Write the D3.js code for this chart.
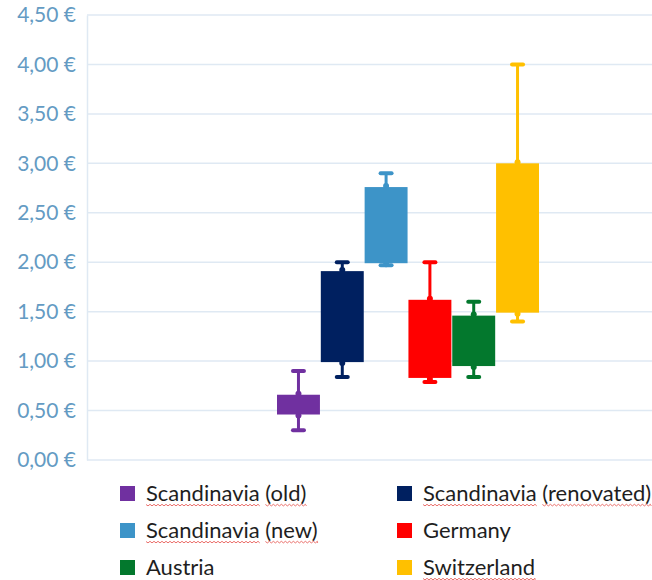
<!DOCTYPE html>
<html>
<head>
<meta charset="utf-8">
<script src="https://cdn.jsdelivr.net/npm/d3@7/dist/d3.min.js"></script>
<style>
  html, body { margin: 0; padding: 0; background: #ffffff; }
  svg { display: block; }
</style>
</head>
<body>
<svg id="chart" width="652" height="580"></svg>
<script>
// Price ranges per region (EUR): min, Q1, Q3, max
const series  = ["Scandinavia (old)", "Scandinavia (renovated)", "Scandinavia (new)", "Germany", "Austria", "Switzerland"];
const minVals = [0.30, 0.84, 1.97, 0.79, 0.84, 1.40];
const q1Vals  = [0.46, 0.99, 1.99, 0.83, 0.95, 1.49];
const q3Vals  = [0.66, 1.91, 2.76, 1.62, 1.46, 3.00];
const maxVals = [0.90, 2.00, 2.90, 2.00, 1.60, 4.00];
const colors  = ["#7030a0", "#002060", "#3d94c8", "#ff0000", "#03782d", "#ffc000"];
const yTicks  = [0, 0.5, 1, 1.5, 2, 2.5, 3, 3.5, 4, 4.5];
// legend entries flagged by the word processor's spell checker
const flagged = [true, true, true, false, false, true];

const svg = d3.select("#chart");
const font = "Lato, 'Open Sans', sans-serif";

const y = d3.scaleLinear().domain([0, 4.5]).range([460, 15]);
const x = d3.scaleBand().domain(series).range([277, 539]).paddingInner(0.02);
const plotLeft = 87, plotRight = 652;

const fmt = v => d3.format(".2f")(v).replace(".", ",") + " €";

// gridlines
svg.append("g").selectAll("line").data(yTicks).join("line")
  .attr("x1", plotLeft).attr("x2", plotRight)
  .attr("y1", d => y(d)).attr("y2", d => y(d))
  .attr("stroke", "#dfe9f3").attr("stroke-width", 1.5);

// value axis
const yAxis = d3.axisLeft(y).tickValues(yTicks).tickFormat(fmt).tickSize(0).tickPadding(11);
const gAxis = svg.append("g").attr("transform", `translate(${plotLeft},0)`).call(yAxis);
gAxis.select(".domain").attr("stroke", "#dfe9f3").attr("stroke-width", 1.5);
gAxis.selectAll("text")
  .attr("fill", "#649bc3").attr("font-family", font).attr("font-size", 21);

const data = series.map((s, i) => ({
  name: s, min: minVals[i], q1: q1Vals[i], q3: q3Vals[i], max: maxVals[i], color: colors[i]
}));

const boxes = svg.append("g").selectAll("g").data(data).join("g");
const cx = d => x(d.name) + x.bandwidth() / 2;

// whiskers
boxes.append("line")
  .attr("x1", cx).attr("x2", cx)
  .attr("y1", d => y(d.max)).attr("y2", d => y(d.min))
  .attr("stroke", d => d.color).attr("stroke-width", 3);

// knobs where the whiskers meet the box
boxes.selectAll("circle").data(d => [
    { v: d.q3, dy: -1, d }, { v: d.q1, dy: 1, d }
  ]).join("circle")
  .attr("cx", e => cx(e.d)).attr("cy", e => y(e.v) + e.dy).attr("r", 3)
  .attr("fill", e => e.d.color);

// whisker caps
boxes.selectAll("line.cap").data(d => [{ v: d.max, d }, { v: d.min, d }]).join("line")
  .attr("class", "cap")
  .attr("x1", e => cx(e.d) - 5.5).attr("x2", e => cx(e.d) + 5.5)
  .attr("y1", e => y(e.v)).attr("y2", e => y(e.v))
  .attr("stroke", e => e.d.color).attr("stroke-width", 4).attr("stroke-linecap", "round");

// boxes
boxes.append("rect")
  .attr("x", d => x(d.name)).attr("width", x.bandwidth())
  .attr("y", d => y(d.q3)).attr("height", d => y(d.q1) - y(d.q3))
  .attr("fill", d => d.color);

// legend
const legCols = [120, 397];
const legRows = [493.5, 530.5, 567.5];
const leg = svg.append("g").selectAll("g").data(data).join("g")
  .attr("transform", (d, i) => `translate(${legCols[i % 2]},${legRows[Math.floor(i / 2)]})`);

leg.append("rect").attr("x", 0).attr("y", -7.5).attr("width", 15).attr("height", 15)
  .attr("fill", d => d.color);

leg.append("text").attr("x", 26).attr("y", 0).attr("dy", "0.36em")
  .attr("font-family", font).attr("font-size", 22).attr("fill", "#1e1e1e")
  .text(d => d.name);

// wavy spell-check underlines beneath each word
leg.each(function (d, i) {
  if (!flagged[i]) return;
  const g = d3.select(this);
  const t = g.select("text").node();
  const str = d.name;
  let pos = 0;
  str.split(" ").forEach(word => {
    const start = str.indexOf(word, pos);
    pos = start + word.length;
    const x0 = 26 + (start > 0 ? t.getSubStringLength(0, start) : 0);
    const w = t.getSubStringLength(start, word.length);
    const baseY = 11;
    let p = `M${x0},${baseY}`;
    for (let xx = x0, k = 0; xx < x0 + w; xx += 2, k++) {
      p += ` L${Math.min(xx + 2, x0 + w)},${baseY + (k % 2 === 0 ? 1.4 : -0.2)}`;
    }
    g.append("path").attr("d", p).attr("fill", "none")
      .attr("stroke", "#e8615c").attr("stroke-width", 0.9);
  });
});
</script>
</body>
</html>
